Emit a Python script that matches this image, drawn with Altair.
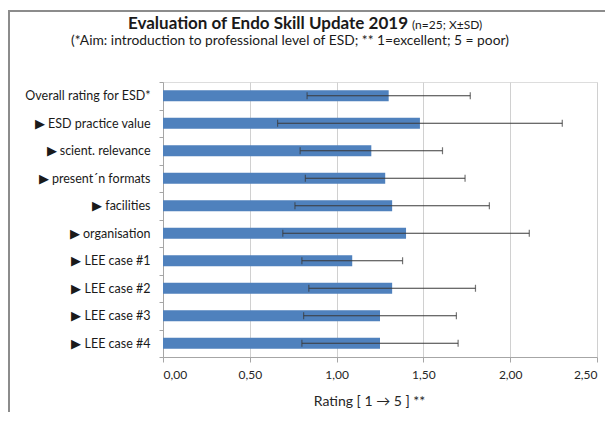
import altair as alt
import pandas as pd

categories = [
    "Overall rating for ESD*",
    "▶ ESD practice value",
    "▶ scient. relevance",
    "▶ present´n formats",
    "▶ facilities",
    "▶ organisation",
    "▶ LEE case #1",
    "▶ LEE case #2",
    "▶ LEE case #3",
    "▶ LEE case #4",
]
means = [1.30, 1.48, 1.20, 1.28, 1.32, 1.40, 1.09, 1.32, 1.25, 1.25]
sds = [0.47, 0.82, 0.41, 0.46, 0.56, 0.71, 0.29, 0.48, 0.44, 0.45]
x_ticks = [0, 0.5, 1.0, 1.5, 2.0, 2.5]

df = pd.DataFrame({"cat": categories, "mean": means, "sd": sds})
df["lo"] = df["mean"] - df["sd"]
df["hi"] = df["mean"] + df["sd"]

FONT = "Lato"
W, H = 434, 275

x_scale = alt.Scale(domain=[0, 2.5], nice=False, zero=True)
y_scale = alt.Scale(domain=categories, paddingInner=0, paddingOuter=0)

base = alt.Chart(df)

bars = base.mark_bar(color="#4f81bd", size=11).encode(
    x=alt.X(
        "mean:Q",
        scale=x_scale,
        axis=alt.Axis(
            values=x_ticks,
            labelExpr="replace(format(datum.value, '.2f'), '.', ',')",
            title="Rating [ 1 → 5 ] **",
            titleFont=FONT,
            titleFontSize=14,
            titleFontWeight="normal",
            titleColor="#262626",
            titlePadding=14,
            titleX=206,
            labelFont=FONT,
            labelFontSize=12,
            labelColor="#262626",
            labelPadding=7,
            tickSize=5,
            tickColor="#a6a6a6",
            domainColor="#a6a6a6",
            grid=True,
            gridColor="#d0d0d0",
            gridWidth=1,
        ),
    ),
    y=alt.Y(
        "cat:N",
        scale=y_scale,
        sort=categories,
        axis=alt.Axis(
            title=None,
            labelFont=FONT,
            labelFontSize=12.5,
            labelColor="#1a1a1a",
            labelPadding=9,
            tickSize=4,
            tickBand="extent",
            tickColor="#a6a6a6",
            domainColor="#a6a6a6",
            grid=False,
            labelLimit=300,
        ),
    ),
)

err = base.mark_rule(color="#3a3a3a", strokeWidth=1.2).encode(
    x=alt.X("lo:Q", scale=x_scale),
    x2="hi:Q",
    y=alt.Y("cat:N", scale=y_scale, sort=categories),
)
cap_lo = base.mark_tick(color="#3a3a3a", orient="vertical", size=7, thickness=1.2).encode(
    x=alt.X("lo:Q", scale=x_scale),
    y=alt.Y("cat:N", scale=y_scale, sort=categories),
)
cap_hi = base.mark_tick(color="#3a3a3a", orient="vertical", size=7, thickness=1.2).encode(
    x=alt.X("hi:Q", scale=x_scale),
    y=alt.Y("cat:N", scale=y_scale, sort=categories),
)

one = alt.Data(values=[{"k": 1}])

title_bold = alt.Chart(one).mark_text(
    text="Evaluation of Endo Skill Update 2019",
    font=FONT, fontSize=17, fontWeight="bold", align="right", baseline="middle", color="#1a1a1a",
).encode(x=alt.value(245), y=alt.value(-58))
title_small = alt.Chart(one).mark_text(
    text="(n=25; X±SD)",
    font=FONT, fontSize=12, align="left", baseline="middle", color="#1a1a1a",
).encode(x=alt.value(249), y=alt.value(-57))
subtitle = alt.Chart(one).mark_text(
    text="(*Aim: introduction to professional level of ESD; ** 1=excellent; 5 = poor)",
    font=FONT, fontSize=13.8, align="center", baseline="middle", color="#1a1a1a",
).encode(x=alt.value(127), y=alt.value(-41))

frame = alt.Chart(one).mark_rect(
    fill="white", fillOpacity=0, stroke="#8c8c8c", strokeWidth=2
).encode(
    x=alt.value(-154), x2=alt.value(470), y=alt.value(-71), y2=alt.value(380)
)

chart = alt.layer(
    frame, bars, err, cap_lo, cap_hi, title_bold, title_small, subtitle
).properties(
    width=W,
    height=H,
    autosize=alt.AutoSizeParams(type="none"),
    padding={"left": 155, "top": 74, "right": 8, "bottom": 55},
).configure_view(stroke=None).configure(background="white")

chart.save("out.html", embed_options={"renderer": "svg", "actions": False})
